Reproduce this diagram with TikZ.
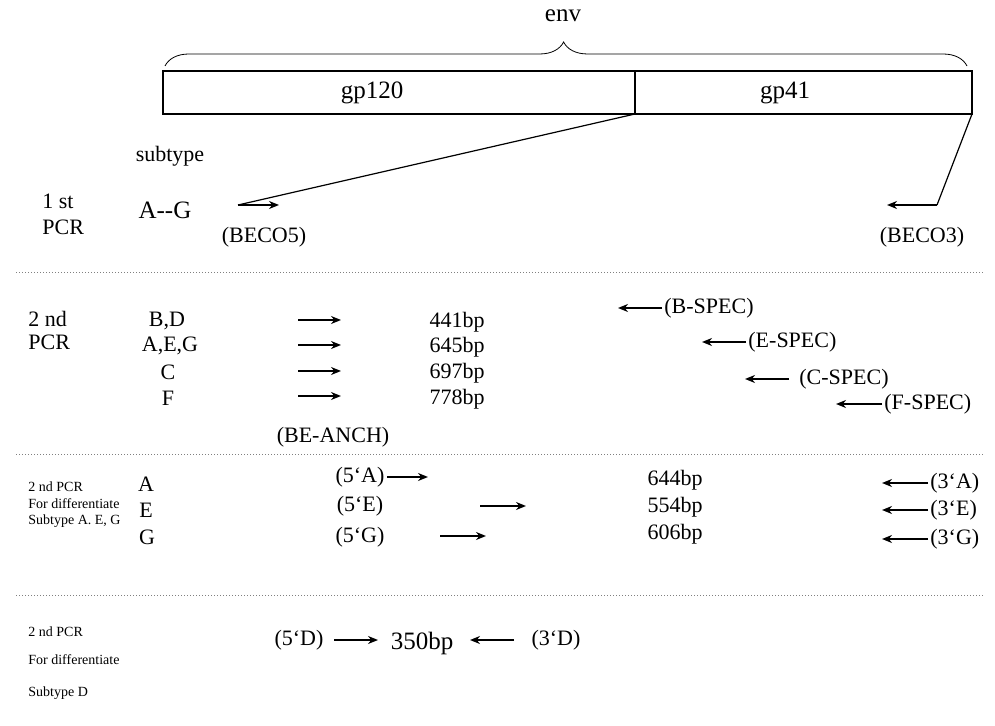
\documentclass[tikz,border=0pt]{standalone}
\usepackage{fontspec}
\setmainfont{Liberation Serif}
\usetikzlibrary{arrows.meta,decorations.pathreplacing}

\tikzset{
  txt/.style={font=\fontsize{11}{13}\selectfont, inner sep=1pt},
  big/.style={font=\fontsize{12.5}{14}\selectfont, inner sep=1pt},
  small/.style={font=\fontsize{7}{8}\selectfont, inner sep=1pt, anchor=west},
  primer/.style={line width=1.2pt, -{Stealth[length=5pt,width=4pt]}},
  sep/.style={gray, line width=0.5pt, densely dotted},
}

\begin{document}
\begin{tikzpicture}[x=0.5pt,y=-0.5pt]
  \useasboundingbox (0,0) rectangle (995,726);

  % env gene with gp120 / gp41
  \draw[line width=0.6pt] (163,71) rectangle (972,114);
  \draw[line width=0.6pt] (635,71) -- (635,114);
  \coordinate (g1) at (635,114);
  \coordinate (g2) at (972,114);
  \node[big] (gp120) at (372,93) {gp120};
  \node[big] (gp41) at (785,93) {gp41};
  \draw[decorate,decoration={brace,amplitude=12pt,aspect=0.497}] (165,66) -- (967,66);
  \node[big] (env) at (563,16) {env};

  % 1st PCR
  \node[txt] (subtype) at (170,156) {subtype};
  \node[txt,anchor=west] (first) at (40,201) {1 st};
  \node[txt,anchor=west] (firstpcr) at (40,227) {PCR};
  \node[big] (ag) at (165,210) {A-{}-G};
  \coordinate (f5a) at (238,205);
  \coordinate (f5b) at (279,205);
  \coordinate (r3a) at (937,205);
  \coordinate (r3b) at (887,205);
  \draw[line width=0.6pt] (g1) -- (f5a);
  \draw[primer] (f5a) -- (f5b);
  \draw[line width=0.6pt] (g2) -- (r3a);
  \draw[primer] (r3a) -- (r3b);
  \node[txt] (beco5) at (264,237) {(BECO5)};
  \node[txt] (beco3) at (922,237) {(BECO3)};

  \draw[sep] (16,273) -- (985,273);

  % 2nd PCR
  \node[txt,anchor=west] (second) at (26,319) {2 nd};
  \node[txt,anchor=west] (secondpcr) at (26,342) {PCR};
  \node[txt] (bd) at (167,321) {B,D};
  \node[txt] (aeg) at (170,346) {A,E,G};
  \node[txt] (c) at (168,372) {C};
  \node[txt] (f) at (168,398) {F};
  \coordinate (bd1) at (298,320); \coordinate (bd2) at (341,320);
  \coordinate (aeg1) at (298,345); \coordinate (aeg2) at (341,345);
  \coordinate (c1) at (298,371); \coordinate (c2) at (341,371);
  \coordinate (f1) at (298,396); \coordinate (f2) at (341,396);
  \draw[primer] (bd1) -- (bd2);
  \draw[primer] (aeg1) -- (aeg2);
  \draw[primer] (c1) -- (c2);
  \draw[primer] (f1) -- (f2);
  \node[txt] (anch) at (333,437) {(BE-ANCH)};
  \node[txt] (bp441) at (457,322) {441bp};
  \node[txt] (bp645) at (457,347) {645bp};
  \node[txt] (bp697) at (457,373) {697bp};
  \node[txt] (bp778) at (457,399) {778bp};
  \node[txt,anchor=west] (bspec) at (662,308) {(B-SPEC)};
  \node[txt,anchor=west] (espec) at (746,342) {(E-SPEC)};
  \node[txt,anchor=west] (cspec) at (797,379) {(C-SPEC)};
  \node[txt,anchor=west] (fspec) at (882,404) {(F-SPEC)};
  \draw[primer] (bspec.west) -- ++(-44,0) coordinate (bs);
  \draw[primer] (espec.west) -- ++(-44,0) coordinate (es);
  \draw[primer] ([xshift=-4pt]cspec.west) -- ++(-44,0) coordinate (cs);
  \draw[primer] (fspec.west) -- ++(-46,0) coordinate (fs);

  \draw[sep] (16,455) -- (985,455);

  % subtype A, E, G
  \node[small] (diff1) at (26,487) {2 nd PCR};
  \node[small] (diff2) at (26,504) {For differentiate};
  \node[small] (diff3) at (26,521) {Subtype A. E, G};
  \node[txt] (a) at (146,484) {A};
  \node[txt] (e) at (146,510) {E};
  \node[txt] (g) at (147,537) {G};
  \node[txt] (a5) at (360,477) {(5‘A)};
  \node[txt] (e5) at (360,506) {(5‘E)};
  \node[txt] (g5) at (360,537) {(5‘G)};
  \coordinate (a5b) at (428,477);
  \coordinate (e5a) at (480,506); \coordinate (e5b) at (526,506);
  \coordinate (g5a) at (440,536); \coordinate (g5b) at (486,536);
  \draw[primer] (a5.east) -- (a5b);
  \draw[primer] (e5a) -- (e5b);
  \draw[primer] (g5a) -- (g5b);
  \node[txt] (bp644) at (675,480) {644bp};
  \node[txt] (bp554) at (675,507) {554bp};
  \node[txt] (bp606) at (675,534) {606bp};
  \node[txt,anchor=west] (a3) at (928,483) {(3‘A)};
  \node[txt,anchor=west] (e3) at (928,510) {(3‘E)};
  \node[txt,anchor=west] (g3) at (928,539) {(3‘G)};
  \draw[primer] (a3.west) -- ++(-46,0) coordinate (a3b);
  \draw[primer] (e3.west) -- ++(-46,0) coordinate (e3b);
  \draw[primer] (g3.west) -- ++(-46,0) coordinate (g3b);

  \draw[sep] (16,595) -- (985,595);

  % subtype D
  \node[small] (dd1) at (26,632) {2 nd PCR};
  \node[small] (dd2) at (26,660) {For differentiate};
  \node[small] (dd3) at (26,693) {Subtype D};
  \node[txt] (d5) at (299,640) {(5‘D)};
  \node[big] (bp350) at (422,643) {350bp};
  \node[txt] (d3) at (556,640) {(3‘D)};
  \coordinate (d5a) at (334,640); \coordinate (d5b) at (378,640);
  \coordinate (d3a) at (514,640); \coordinate (d3b) at (470,640);
  \draw[primer] (d5a) -- (d5b);
  \draw[primer] (d3a) -- (d3b);
\end{tikzpicture}
\end{document}
